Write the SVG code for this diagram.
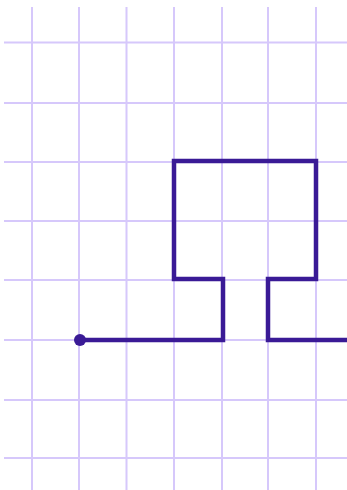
<svg xmlns="http://www.w3.org/2000/svg" width="347" height="490" viewBox="0 0 347 490">
<style>
.g line{stroke:#d6c8fb;stroke-width:2}
.p{fill:none;stroke:#3a1a96;stroke-width:4.5;stroke-linejoin:miter;stroke-linecap:square}
</style>
<rect width="347" height="490" fill="#ffffff"/>
<g class="g" id="grid">
<line x1="32" y1="7" x2="32" y2="490"/>
<line x1="79" y1="7" x2="79" y2="490"/>
<line x1="126.5" y1="7" x2="126.5" y2="490"/>
<line x1="174" y1="7" x2="174" y2="490"/>
<line x1="222" y1="7" x2="222" y2="490"/>
<line x1="268" y1="7" x2="268" y2="490"/>
<line x1="316" y1="7" x2="316" y2="490"/>
<line x1="4" y1="42.5" x2="347" y2="42.5"/>
<line x1="4" y1="103" x2="347" y2="103"/>
<line x1="4" y1="162" x2="347" y2="162"/>
<line x1="4" y1="221" x2="347" y2="221"/>
<line x1="4" y1="280" x2="347" y2="280"/>
<line x1="4" y1="340" x2="347" y2="340"/>
<line x1="4" y1="400" x2="347" y2="400"/>
<line x1="4" y1="458" x2="347" y2="458"/>
</g>
<g id="path">
<path class="p" d="M80 340 H223 V279 H174 V161 H316 V279 H268 V340 H349"/>
<circle id="start" cx="80" cy="340" r="6" fill="#3a1a96"/>
</g>
</svg>
